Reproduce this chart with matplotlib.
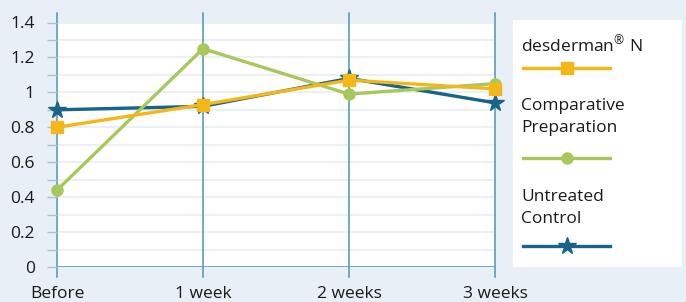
import matplotlib.pyplot as plt
from matplotlib.lines import Line2D

plt.rcParams['font.family'] = ['Open Sans', 'DejaVu Sans']
plt.rcParams['mathtext.fontset'] = 'custom'
plt.rcParams['mathtext.rm'] = 'Open Sans'

# data
categories = ['Before', '1 week', '2 weeks', '3 weeks']
desderman = [0.80, 0.93, 1.07, 1.02]
comparative = [0.44, 1.25, 0.99, 1.05]
untreated = [0.90, 0.92, 1.08, 0.94]
y_ticks = [0, 0.2, 0.4, 0.6, 0.8, 1, 1.2, 1.4]
y_tick_labels = ['0', '0.2', '0.4', '0.6', '0.8', '1', '1.2', '1.4']

bg = '#e9eff7'
axis_col = '#4a97b5'
yellow = '#f3b718'
green = '#a9c85c'
blue = '#17638a'
txt = '#1a1a1a'

W, H = 686, 302
fig = plt.figure(figsize=(W / 100, H / 100), dpi=100, facecolor=bg)

# main plot area: Before at x=57, 3 weeks at x=495, 0 at y=267, 1.4 at y=22.5
x0, x1, y0, y1 = 57, 495, 267, 22.5
ax = fig.add_axes([x0 / W, (H - y0) / H, (x1 - x0) / W, (y0 - y1) / H])
ax.set_facecolor('white')
ax.set_xlim(0, 3)
ax.set_ylim(0, 1.4)
for s in ax.spines.values():
    s.set_visible(False)

# faint horizontal grid every 0.1
for i in range(1, 15):
    ax.axhline(i / 10, color='#e8edf4', lw=1.2, zorder=0)

# vertical category lines extend a bit above and below the plot
for i in range(len(categories)):
    ax.axvline(i, ymin=-0.04, ymax=1.04, color=axis_col, lw=1.1, clip_on=False, zorder=1)
ax.axhline(0, color=axis_col, lw=1.1, zorder=1)

ax.set_xticks(range(len(categories)))
ax.set_xticklabels(categories, fontsize=12.5, color=txt)
ax.tick_params(axis='x', length=0, pad=14)
ax.set_yticks(y_ticks)
ax.set_yticklabels(y_tick_labels, fontsize=12.5, color=txt)
ax.set_yticks([i / 10 for i in range(1, 14, 2)], minor=True)
ax.tick_params(axis='y', which='both', length=7, width=1, color='#a8c0d4', pad=9)

xs = range(len(categories))
ax.plot(xs, untreated, color=blue, lw=2.4, marker='*', ms=13, clip_on=False, zorder=3)
ax.plot(xs, comparative, color=green, lw=2.4, marker='o', ms=8, clip_on=False, zorder=4)
ax.plot(xs, desderman, color=yellow, lw=2.4, marker='s', ms=8.5, clip_on=False, zorder=5)

# legend box drawn by hand
lx0, lx1, ly0, ly1 = 513, 682, 267, 20
lax = fig.add_axes([lx0 / W, (H - ly0) / H, (lx1 - lx0) / W, (ly0 - ly1) / H])
lax.set_facecolor('white')
lax.set_xlim(lx0, lx1)
lax.set_ylim(ly0, ly1)
lax.set_xticks([])
lax.set_yticks([])
for s in lax.spines.values():
    s.set_visible(False)

entries = [
    (r'$\mathregular{desderman^{®}\ N}$', yellow, 's', 8.5, 45, 68),
    ('Comparative\nPreparation', green, 'o', 8, 117, 158),
    ('Untreated\nControl', blue, '*', 13, 208, 246),
]
for label, col, mk, ms, ty, ly in entries:
    lax.text(521, ty, label, fontsize=12.5, color=txt, va='center', ha='left', linespacing=1.5)
    lax.add_line(Line2D([523, 610], [ly, ly], color=col, lw=2.4))
    lax.add_line(Line2D([567], [ly], color=col, marker=mk, ms=ms, lw=0))

fig.savefig('out.png', dpi=100, facecolor=bg)
